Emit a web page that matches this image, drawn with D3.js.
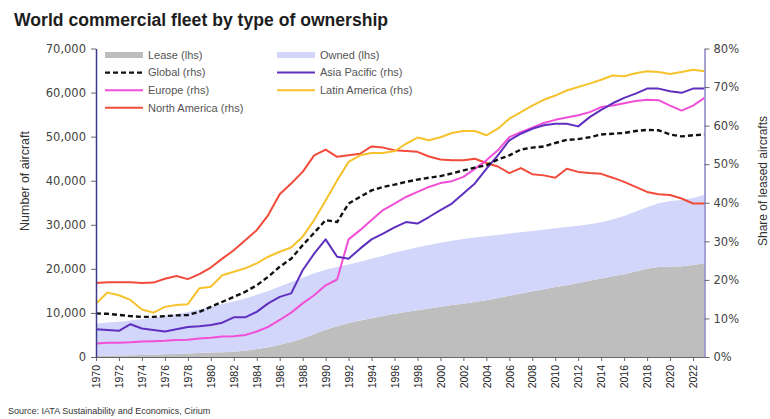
<!doctype html>
<meta charset="utf-8">
<style>
body { margin: 0; background: #fff; }
svg { display: block; font-family: "Liberation Sans", Arial, sans-serif; }
.yaxis .tick text { font-family: "DejaVu Sans", sans-serif; font-size: 11.5px; fill: #444; }
.xaxis .tick text { font-size: 10.5px; fill: #222; }
.tick line { stroke: #666; }
.legend text { font-size: 11px; fill: #555; }
</style>
<svg id="chart" width="770" height="419"></svg>
<script src="https://d3js.org/d3.v7.min.js"></script>
<script>
  // years on the x axis
  const years = [1970, 1971, 1972, 1973, 1974, 1975, 1976, 1977, 1978, 1979,
    1980, 1981, 1982, 1983, 1984, 1985, 1986, 1987, 1988, 1989,
    1990, 1991, 1992, 1993, 1994, 1995, 1996, 1997, 1998, 1999,
    2000, 2001, 2002, 2003, 2004, 2005, 2006, 2007, 2008, 2009,
    2010, 2011, 2012, 2013, 2014, 2015, 2016, 2017, 2018, 2019,
    2020, 2021, 2022, 2023];

  // number of aircraft (lhs)
  const lease = [300, 300, 350, 400, 450, 500, 600, 700, 800, 900,
    1000, 1100, 1200, 1400, 1800, 2200, 2800, 3400, 4200, 5200,
    6200, 7000, 7700, 8300, 8800, 9300, 9800, 10200, 10600, 11000,
    11400, 11800, 12100, 12500, 12900, 13400, 13900, 14400, 14900, 15400,
    15900, 16300, 16800, 17300, 17800, 18300, 18800, 19400, 20000, 20400,
    20500, 20600, 20900, 21300];
  const owned = [7300, 7500, 7650, 7900, 8150, 8400, 8700, 9000, 9400, 9900,
    10400, 10900, 11400, 11900, 12300, 12800, 13200, 13600, 13800, 13800,
    13600, 13400, 13300, 13300, 13500, 13700, 13900, 14100, 14300, 14400,
    14500, 14600, 14700, 14600, 14500, 14300, 14100, 13900, 13700, 13500,
    13300, 13200, 13000, 12800, 12800, 12900, 13200, 13600, 14000, 14500,
    14900, 15000, 15200, 15500];

  // share of leased aircraft, % (rhs)
  const globalShare = [11.3, 11.2, 10.9, 10.6, 10.4, 10.4, 10.6, 10.8, 10.9, 11.7,
    13.0, 14.3, 15.6, 16.9, 18.6, 20.8, 23.4, 25.5, 29.0, 32.2,
    35.5, 35.0, 39.8, 41.5, 43.2, 44.1, 44.7, 45.4, 46.0, 46.5,
    46.9, 47.6, 48.4, 49.1, 49.7, 51.2, 52.3, 53.8, 54.3, 54.6,
    55.5, 56.3, 56.5, 57.0, 57.7, 57.9, 58.1, 58.6, 58.9, 58.8,
    57.7, 57.2, 57.5, 57.7];
  const asiaPacific = [7.2, 7.0, 6.8, 8.5, 7.4, 7.0, 6.6, 7.2, 7.8, 8.0,
    8.3, 8.9, 10.3, 10.3, 11.7, 13.9, 15.6, 16.5, 22.5, 26.8,
    30.5, 26.0, 25.5, 28.1, 30.5, 32.0, 33.6, 35.0, 34.6, 36.3,
    38.1, 39.8, 42.4, 45.0, 48.8, 52.3, 56.2, 57.9, 59.2, 60.1,
    60.5, 60.5, 59.8, 62.2, 64.1, 65.8, 67.2, 68.3, 69.6, 69.6,
    68.9, 68.5, 69.6, 69.6];
  const europe = [3.5, 3.7, 3.7, 3.8, 4.0, 4.1, 4.2, 4.4, 4.5, 4.8,
    5.0, 5.3, 5.4, 5.7, 6.6, 7.8, 9.6, 11.5, 13.9, 16.0,
    18.6, 20.1, 30.5, 32.9, 35.5, 38.1, 39.8, 41.5, 42.8, 44.1,
    45.1, 45.6, 46.7, 48.8, 51.0, 53.6, 57.0, 58.3, 59.5, 60.7,
    61.5, 62.1, 62.7, 63.5, 64.8, 65.2, 65.8, 66.4, 66.7, 66.6,
    65.2, 63.9, 65.2, 67.2];
  const latinAmerica = [13.9, 16.7, 16.0, 14.8, 12.3, 11.5, 13.0, 13.5, 13.7, 17.8,
    18.2, 21.2, 22.1, 23.0, 24.3, 26.0, 27.3, 28.4, 31.2, 35.5,
    40.6, 45.8, 50.6, 52.3, 52.9, 52.9, 53.4, 55.3, 56.9, 56.2,
    57.0, 58.1, 58.6, 58.6, 57.5, 59.2, 61.8, 63.5, 65.2, 66.7,
    67.8, 69.1, 70.0, 70.9, 71.9, 73.0, 72.8, 73.6, 74.1, 73.9,
    73.4, 73.9, 74.5, 74.1];
  const northAmerica = [19.2, 19.4, 19.4, 19.4, 19.2, 19.3, 20.3, 21.0, 20.2, 21.5,
    23.2, 25.5, 27.7, 30.3, 32.9, 36.8, 42.2, 45.0, 48.0, 52.3,
    53.8, 51.9, 52.3, 52.7, 54.6, 54.3, 53.6, 53.4, 53.2, 52.0,
    51.2, 51.0, 51.0, 51.4, 50.3, 49.4, 47.7, 49.0, 47.4, 47.1,
    46.5, 48.8, 48.0, 47.7, 47.5, 46.5, 45.4, 44.1, 42.8, 42.2,
    42.0, 41.1, 39.8, 39.8];

  const svg = d3.select("#chart");

  let x = d3.scaleLinear().domain([1970, 2023]).range([96, 704.5]);
  let yL = d3.scaleLinear().domain([0, 70000]).range([357, 48.5]);
  let yR = d3.scaleLinear().domain([0, 80]).range([357, 48.5]);

  //
  // stacked areas
  //
  let rows = years.map((yr, i) => ({year: yr, lease: lease[i], owned: owned[i]}));
  let stacked = d3.stack().keys(["lease", "owned"])(rows);
  let areaColours = {lease: "#bebebe", owned: "#d3d6fb"};

  let area = d3.area()
    .x(d => x(d.data.year))
    .y0(d => yL(d[0]))
    .y1(d => yL(d[1]));

  svg.append("g")
    .selectAll("path")
    .data(stacked)
    .enter()
    .append("path")
    .attr("d", area)
    .attr("fill", d => areaColours[d.key]);

  //
  // share lines
  //
  let series = [
    {name: "North America (rhs)", values: northAmerica, colour: "#f24b3b"},
    {name: "Latin America (rhs)", values: latinAmerica, colour: "#f6c22e"},
    {name: "Europe (rhs)", values: europe, colour: "#f14fd8"},
    {name: "Asia Pacific (rhs)", values: asiaPacific, colour: "#5f2fbf"},
    {name: "Global (rhs)", values: globalShare, colour: "#111", dash: "5,3"}
  ];

  let line = d3.line()
    .x((d, i) => x(years[i]))
    .y(d => yR(d));

  svg.append("g")
    .selectAll("path")
    .data(series)
    .enter()
    .append("path")
    .attr("d", d => line(d.values))
    .attr("fill", "none")
    .attr("stroke", d => d.colour)
    .attr("stroke-width", d => d.dash ? 2.4 : 2)
    .attr("stroke-dasharray", d => d.dash || null)
    .attr("stroke-linejoin", "round");

  //
  // axes
  //
  let xAxis = d3.axisBottom(x)
    .tickValues(years.filter(yr => yr % 2 === 0))
    .tickFormat(d3.format("d"))
    .tickSize(4)
    .tickSizeOuter(0);

  let gx = svg.append("g")
    .attr("class", "xaxis")
    .attr("transform", "translate(0,357)")
    .call(xAxis);
  gx.select(".domain").attr("stroke", "#666");
  gx.selectAll(".tick text")
    .attr("transform", "rotate(-90)")
    .attr("text-anchor", "end")
    .attr("x", -8)
    .attr("y", 0)
    .attr("dy", "0.35em");

  let gl = svg.append("g")
    .attr("class", "yaxis")
    .attr("transform", "translate(96,0)")
    .call(d3.axisLeft(yL).ticks(7).tickFormat(d3.format(",")).tickSize(5).tickSizeOuter(0));
  gl.select(".domain").attr("stroke", "#3c3a8c").attr("stroke-width", 1.5);
  gl.selectAll(".tick text").attr("x", -10);

  let gr = svg.append("g")
    .attr("class", "yaxis")
    .attr("transform", "translate(704.5,0)")
    .call(d3.axisRight(yR).ticks(8).tickFormat(d => d + "%").tickSize(5).tickSizeOuter(0));
  gr.select(".domain").attr("stroke", "#8886c6").attr("stroke-width", 1.5);
  gr.selectAll(".tick text").attr("x", 9);

  //
  // texts
  //
  svg.append("text")
    .attr("x", 14)
    .attr("y", 26)
    .attr("font-size", 17.6)
    .attr("font-weight", "bold")
    .attr("fill", "#1e1e1e")
    .text("World commercial fleet by type of ownership");

  svg.append("text")
    .attr("transform", "translate(29,181) rotate(-90)")
    .attr("text-anchor", "middle")
    .attr("font-size", 12.5)
    .attr("fill", "#333")
    .text("Number of aircraft");

  svg.append("text")
    .attr("transform", "translate(767,181) rotate(-90)")
    .attr("text-anchor", "middle")
    .attr("font-size", 12)
    .attr("fill", "#333")
    .text("Share of leased aircrafts");

  svg.append("text")
    .attr("x", 8)
    .attr("y", 414)
    .attr("font-size", 9)
    .attr("fill", "#333")
    .text("Source: IATA Sustainability and Economics, Cirium");

  //
  // legend
  //
  let legendItems = [
    {name: "Lease (lhs)", colour: areaColours.lease, col: 0, row: 0, swatch: true},
    {name: "Owned (lhs)", colour: areaColours.owned, col: 1, row: 0, swatch: true},
    {name: "Global (rhs)", colour: "#111", col: 0, row: 1, dash: "5,3"},
    {name: "Asia Pacific (rhs)", colour: "#5f2fbf", col: 1, row: 1},
    {name: "Europe (rhs)", colour: "#f14fd8", col: 0, row: 2},
    {name: "Latin America (rhs)", colour: "#f6c22e", col: 1, row: 2},
    {name: "North America (rhs)", colour: "#f24b3b", col: 0, row: 3}
  ];

  let legend = svg.append("g").attr("class", "legend")
    .selectAll("g")
    .data(legendItems)
    .enter()
    .append("g")
    .attr("transform", d => "translate(" + (d.col ? 277 : 105) + "," + (55 + d.row * 17.6) + ")");

  legend.append("line")
    .attr("x1", 0)
    .attr("x2", 38)
    .attr("stroke", d => d.colour)
    .attr("stroke-width", d => d.swatch ? 6 : (d.dash ? 2.4 : 2))
    .attr("stroke-dasharray", d => d.dash || null);

  legend.append("text")
    .attr("x", 43)
    .attr("dy", "0.35em")
    .text(d => d.name);
</script>
